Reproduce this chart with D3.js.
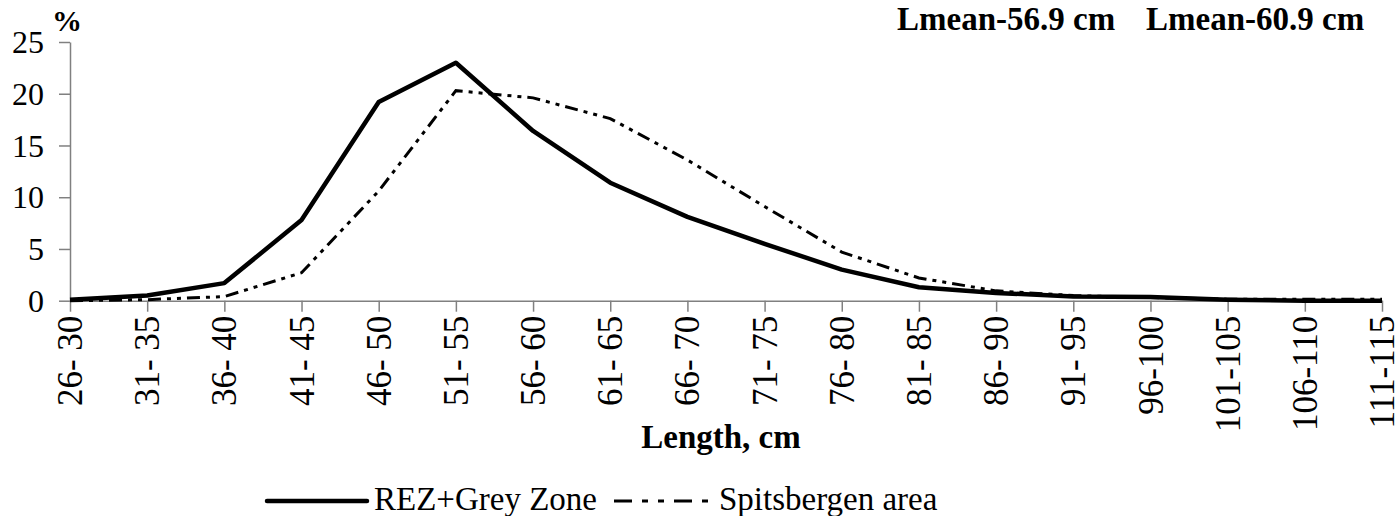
<!DOCTYPE html>
<html>
<head>
<meta charset="utf-8">
<script src="https://cdn.jsdelivr.net/npm/d3@7"></script>
<style>
  body { margin: 0; background: #fff; }
</style>
</head>
<body>
<div id="chart"></div>
<script>
// length classes, cm
var categories = ["26- 30","31- 35","36- 40","41- 45","46- 50","51- 55","56- 60","61- 65","66- 70",
    "71- 75","76- 80","81- 85","86- 90","91- 95","96-100","101-105","106-110","111-115"];

// % of fish in each class
var rezValues   = [0.1, 0.5, 1.7, 7.8, 19.2, 23.0, 16.4, 11.4, 8.1, 5.5, 3.0, 1.3, 0.75, 0.4, 0.35, 0.1, 0, 0];
var spitsValues = [0, 0.1, 0.4, 2.7, 10.6, 20.3, 19.6, 17.6, 13.6, 9.1, 4.7, 2.2, 0.95, 0.5, 0.3, 0.15, 0.15, 0.15];

var yTicks = [0, 5, 10, 15, 20, 25];
var seriesNames = ["REZ+Grey Zone", "Spitsbergen area"];
var meanLabels = ["Lmean-56.9 cm", "Lmean-60.9 cm"];

var width = 1399, height = 516;
var serif = "'Liberation Serif', 'Times New Roman', serif";

var svg = d3.select("#chart").append("svg")
    .attr("width", width)
    .attr("height", height)
    .attr("font-family", serif);

var x = d3.scalePoint()
    .domain(categories)
    .range([70, 1382]);

var y = d3.scaleLinear()
    .domain([0, 25])
    .range([300.7, 42]);

//y axis
var yAxis = svg.append("g")
    .attr("transform", "translate(70,0)")
    .call(d3.axisLeft(y).tickValues(yTicks).tickSize(11).tickPadding(15).tickSizeOuter(0));
yAxis.attr("font-family", serif).attr("font-size", 32);
yAxis.selectAll("text").attr("fill", "#000").attr("dy", "0.33em");

//x axis
var xAxis = svg.append("g")
    .attr("transform", "translate(0," + y(0) + ")")
    .call(d3.axisBottom(x).tickSize(11).tickSizeOuter(0));
xAxis.attr("font-family", serif).attr("font-size", 35);
xAxis.selectAll("text")
    .attr("fill", "#000")
    .style("text-anchor", "end")
    .attr("transform", "rotate(-90)")
    .attr("x", -15)
    .attr("y", 0)
    .attr("dy", "0.33em");

svg.selectAll(".domain, .tick line")
    .attr("stroke", "#808080")
    .attr("stroke-width", 1.5);

//lines
var line = d3.line()
    .x(function(d, i) { return x(categories[i]); })
    .y(function(d) { return y(d); });

svg.append("path")
    .datum(spitsValues)
    .attr("d", line)
    .attr("fill", "none")
    .attr("stroke", "#000")
    .attr("stroke-width", 3)
    .attr("stroke-dasharray", "13,6,4,6,4,6");

svg.append("path")
    .datum(rezValues)
    .attr("d", line)
    .attr("fill", "none")
    .attr("stroke", "#000")
    .attr("stroke-width", 4.5)
    .attr("stroke-linejoin", "round");

//labels
svg.append("text")
    .attr("x", 52).attr("y", 31)
    .attr("font-size", 30).attr("font-weight", "bold")
    .text("%");

svg.append("text")
    .attr("x", 721).attr("y", 448)
    .attr("text-anchor", "middle")
    .attr("font-size", 33).attr("font-weight", "bold")
    .text("Length, cm");

svg.append("text")
    .attr("x", 897).attr("y", 30)
    .attr("font-size", 33).attr("font-weight", "bold")
    .text(meanLabels[0]);
svg.append("text")
    .attr("x", 1146).attr("y", 30)
    .attr("font-size", 33).attr("font-weight", "bold")
    .text(meanLabels[1]);

//legend
var legend = svg.append("g");
legend.append("line")
    .attr("x1", 267).attr("x2", 367).attr("y1", 501).attr("y2", 501)
    .attr("stroke", "#000").attr("stroke-width", 4.5).attr("stroke-linecap", "round");
legend.append("text")
    .attr("x", 374).attr("y", 510)
    .attr("font-size", 33)
    .text(seriesNames[0]);
legend.append("line")
    .attr("x1", 614).attr("x2", 709).attr("y1", 501).attr("y2", 501)
    .attr("stroke", "#000").attr("stroke-width", 3)
    .attr("stroke-dasharray", "18,10,6,10,6,10");
legend.append("text")
    .attr("x", 719).attr("y", 510)
    .attr("font-size", 33)
    .text(seriesNames[1]);
</script>
</body>
</html>
